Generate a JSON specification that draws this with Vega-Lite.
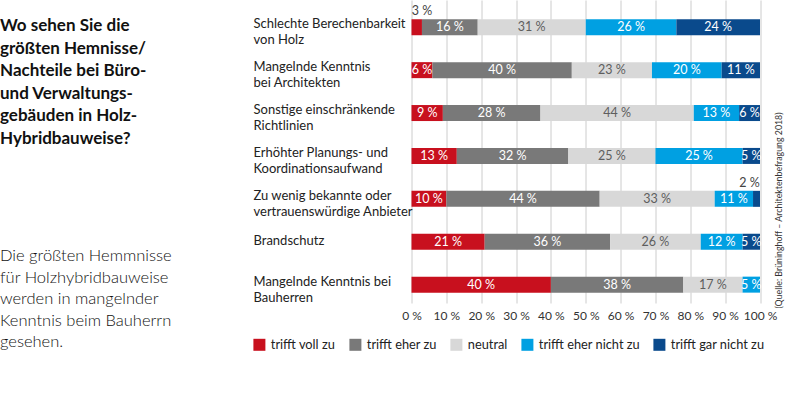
{
  "$schema": "https://vega.github.io/schema/vega-lite/v6.json",
  "width": 348.5,
  "height": 303,
  "autosize": {"type": "none"},
  "padding": {"left": 411.5, "top": 0, "right": 30, "bottom": 90},
  "background": "white",
  "config": {"font": "Lato", "view": {"stroke": null}, "axisX": {"labelOverlap": false, "labelFlush": false}},
  "title": {
    "text": ["Wo sehen Sie die", "größten Hemnisse/", "Nachteile bei Büro-", "und Verwaltungs-", "gebäuden in Holz-", "Hybridbauweise?"],
    "subtitle": ["Die größten Hemmnisse", "für Holzhybridbauweise", "werden in mangelnder", "Kenntnis beim Bauherrn", "gesehen."],
    "anchor": "start",
    "frame": "group",
    "orient": "top",
    "fontSize": 17,
    "fontWeight": "bold",
    "lineHeight": 22.6,
    "color": "#111111",
    "subtitleFontSize": 16.5,
    "subtitleFontWeight": 300,
    "subtitleLineHeight": 21.6,
    "subtitleColor": "#111111",
    "subtitlePadding": 100,
    "dx": -411.5,
    "dy": 352,
    "offset": 0
  },
  "data": {
    "values": [
      {"q": "Schlechte Berechenbarkeit\nvon Holz", "cat": "trifft voll zu", "v": 3},
      {"q": "Schlechte Berechenbarkeit\nvon Holz", "cat": "trifft eher zu", "v": 16},
      {"q": "Schlechte Berechenbarkeit\nvon Holz", "cat": "neutral", "v": 31},
      {"q": "Schlechte Berechenbarkeit\nvon Holz", "cat": "trifft eher nicht zu", "v": 26},
      {"q": "Schlechte Berechenbarkeit\nvon Holz", "cat": "trifft gar nicht zu", "v": 24},
      {"q": "Mangelnde Kenntnis\nbei Architekten", "cat": "trifft voll zu", "v": 6},
      {"q": "Mangelnde Kenntnis\nbei Architekten", "cat": "trifft eher zu", "v": 40},
      {"q": "Mangelnde Kenntnis\nbei Architekten", "cat": "neutral", "v": 23},
      {"q": "Mangelnde Kenntnis\nbei Architekten", "cat": "trifft eher nicht zu", "v": 20},
      {"q": "Mangelnde Kenntnis\nbei Architekten", "cat": "trifft gar nicht zu", "v": 11},
      {"q": "Sonstige einschränkende\nRichtlinien", "cat": "trifft voll zu", "v": 9},
      {"q": "Sonstige einschränkende\nRichtlinien", "cat": "trifft eher zu", "v": 28},
      {"q": "Sonstige einschränkende\nRichtlinien", "cat": "neutral", "v": 44},
      {"q": "Sonstige einschränkende\nRichtlinien", "cat": "trifft eher nicht zu", "v": 13},
      {"q": "Sonstige einschränkende\nRichtlinien", "cat": "trifft gar nicht zu", "v": 6},
      {"q": "Erhöhter Planungs- und\nKoordinationsaufwand", "cat": "trifft voll zu", "v": 13},
      {"q": "Erhöhter Planungs- und\nKoordinationsaufwand", "cat": "trifft eher zu", "v": 32},
      {"q": "Erhöhter Planungs- und\nKoordinationsaufwand", "cat": "neutral", "v": 25},
      {"q": "Erhöhter Planungs- und\nKoordinationsaufwand", "cat": "trifft eher nicht zu", "v": 25},
      {"q": "Erhöhter Planungs- und\nKoordinationsaufwand", "cat": "trifft gar nicht zu", "v": 5},
      {"q": "Zu wenig bekannte oder\nvertrauenswürdige Anbieter", "cat": "trifft voll zu", "v": 10},
      {"q": "Zu wenig bekannte oder\nvertrauenswürdige Anbieter", "cat": "trifft eher zu", "v": 44},
      {"q": "Zu wenig bekannte oder\nvertrauenswürdige Anbieter", "cat": "neutral", "v": 33},
      {"q": "Zu wenig bekannte oder\nvertrauenswürdige Anbieter", "cat": "trifft eher nicht zu", "v": 11},
      {"q": "Zu wenig bekannte oder\nvertrauenswürdige Anbieter", "cat": "trifft gar nicht zu", "v": 2},
      {"q": "Brandschutz", "cat": "trifft voll zu", "v": 21},
      {"q": "Brandschutz", "cat": "trifft eher zu", "v": 36},
      {"q": "Brandschutz", "cat": "neutral", "v": 26},
      {"q": "Brandschutz", "cat": "trifft eher nicht zu", "v": 12},
      {"q": "Brandschutz", "cat": "trifft gar nicht zu", "v": 5},
      {"q": "Mangelnde Kenntnis bei\nBauherren", "cat": "trifft voll zu", "v": 40},
      {"q": "Mangelnde Kenntnis bei\nBauherren", "cat": "trifft eher zu", "v": 38},
      {"q": "Mangelnde Kenntnis bei\nBauherren", "cat": "neutral", "v": 17},
      {"q": "Mangelnde Kenntnis bei\nBauherren", "cat": "trifft eher nicht zu", "v": 5}
    ]
  },
  "transform": [
    {"calculate": "indexof(['trifft voll zu','trifft eher zu','neutral','trifft eher nicht zu','trifft gar nicht zu'], datum.cat)", "as": "ord"},
    {"stack": "v", "groupby": ["q"], "sort": [{"field": "ord", "order": "ascending"}], "as": ["x0", "x1"]},
    {"calculate": "(datum.x0 + datum.x1) / 2", "as": "mid"},
    {"calculate": "datum.v < 5 ? clamp((datum.x0 + datum.x1) / 2, 3, 97) : (datum.x0 + datum.x1) / 2", "as": "lx"},
    {"calculate": "datum.v + ' %'", "as": "label"}
  ],
  "resolve": {"axis": {"y": "independent"}},
  "layer": [
    {
      "mark": {"type": "bar"},
      "encoding": {
        "y": {
          "field": "q", "type": "nominal",
          "sort": ["Schlechte Berechenbarkeit\nvon Holz", "Mangelnde Kenntnis\nbei Architekten", "Sonstige einschränkende\nRichtlinien", "Erhöhter Planungs- und\nKoordinationsaufwand", "Zu wenig bekannte oder\nvertrauenswürdige Anbieter", "Brandschutz", "Mangelnde Kenntnis bei\nBauherren"],
          "scale": {"paddingInner": 0.627, "paddingOuter": 0.345, "align": 0.65},
          "axis": {
            "title": null, "ticks": false, "domain": false, "grid": false,
            "labelAlign": "left", "labelPadding": 158.5, "labelBaseline": "middle",
            "labelFontSize": 13, "labelLineHeight": 16, "labelColor": "#222222",
            "labelOffset": {"condition": {"test": "datum.label == 'Brandschutz'", "value": -0.5}, "value": -3},
            "labelLimit": 220,
            "labelExpr": "split(datum.label, '\\n')"
          }
        },
        "x": {
          "field": "x0", "type": "quantitative",
          "scale": {"domain": [0, 100], "nice": false},
          "axis": {
            "title": null, "values": [0, 10, 20, 30, 40, 50, 60, 70, 80, 90, 100],
            "labelExpr": "datum.value + ' %'", "labelOverlap": false, "labelFlush": false, "grid": true, "gridColor": "#cccccc", "gridWidth": 1,
            "ticks": false, "domain": false, "labelFontSize": 12, "labelPadding": 7, "labelColor": "#333333"
          }
        },
        "x2": {"field": "x1"},
        "color": {
          "field": "cat", "type": "nominal",
          "scale": {
            "domain": ["trifft voll zu", "trifft eher zu", "neutral", "trifft eher nicht zu", "trifft gar nicht zu"],
            "range": ["#C8101E", "#797979", "#D8D8D8", "#00A0E2", "#0A4A8C"]
          },
          "legend": {
            "orient": "none", "legendX": -158.5, "legendY": 338, "direction": "horizontal",
            "title": null, "symbolType": "square", "symbolSize": 144, "symbolStrokeWidth": 0,
            "labelFontSize": 12.8, "labelOffset": 5, "columnPadding": 13, "labelColor": "#222222", "padding": 0
          }
        }
      }
    },
    {
      "transform": [{"filter": "datum.v >= 5"}],
      "mark": {"type": "text", "fontSize": 12.5, "align": "center", "baseline": "middle"},
      "encoding": {
        "y": {"field": "q", "type": "nominal", "sort": ["Schlechte Berechenbarkeit\nvon Holz", "Mangelnde Kenntnis\nbei Architekten", "Sonstige einschränkende\nRichtlinien", "Erhöhter Planungs- und\nKoordinationsaufwand", "Zu wenig bekannte oder\nvertrauenswürdige Anbieter", "Brandschutz", "Mangelnde Kenntnis bei\nBauherren"], "axis": null},
        "x": {"field": "mid", "type": "quantitative", "axis": {"title": null, "values": [0, 10, 20, 30, 40, 50, 60, 70, 80, 90, 100], "labelExpr": "datum.value + ' %'", "labelOverlap": false, "labelFlush": false, "grid": true, "gridColor": "#cccccc", "gridWidth": 1, "ticks": false, "domain": false, "labelFontSize": 12, "labelPadding": 7, "labelColor": "#333333"}},
        "text": {"field": "label"},
        "color": {"condition": {"test": "datum.cat === 'neutral'", "value": "#5e5e5e"}, "value": "#ffffff"}
      }
    },
    {
      "transform": [{"filter": "datum.v < 5"}],
      "mark": {"type": "text", "fontSize": 12.5, "align": "center", "baseline": "middle", "dy": -16, "color": "#444444"},
      "encoding": {
        "y": {
          "field": "q", "type": "nominal",
          "sort": ["Schlechte Berechenbarkeit\nvon Holz", "Mangelnde Kenntnis\nbei Architekten", "Sonstige einschränkende\nRichtlinien", "Erhöhter Planungs- und\nKoordinationsaufwand", "Zu wenig bekannte oder\nvertrauenswürdige Anbieter", "Brandschutz", "Mangelnde Kenntnis bei\nBauherren"],
          "axis": {
            "orient": "right", "labels": false, "ticks": false, "domain": false, "grid": false,
            "title": "(Quelle: Brüninghoff – Architektenbefragung 2018)",
            "titleAngle": 270, "titleFontSize": 8.8, "titleFontWeight": "normal", "titleColor": "#333333",
            "titleX": 18, "titleY": 210, "titleAlign": "center", "titleBaseline": "middle"
          }
        },
        "x": {"field": "lx", "type": "quantitative", "axis": {"title": null, "values": [0, 10, 20, 30, 40, 50, 60, 70, 80, 90, 100], "labelExpr": "datum.value + ' %'", "labelOverlap": false, "labelFlush": false, "grid": true, "gridColor": "#cccccc", "gridWidth": 1, "ticks": false, "domain": false, "labelFontSize": 12, "labelPadding": 7, "labelColor": "#333333"}},
        "text": {"field": "label"}
      }
    }
  ]
}
